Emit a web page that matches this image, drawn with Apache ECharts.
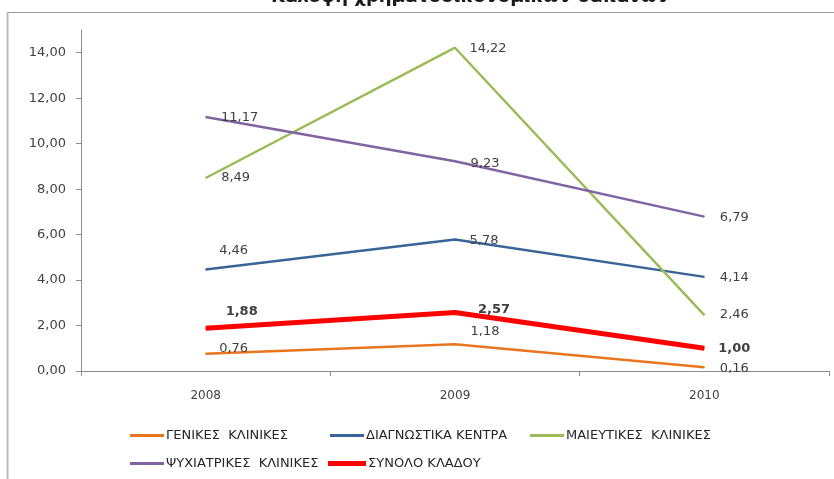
<!DOCTYPE html>
<html>
<head>
<meta charset="utf-8">
<script src="https://cdn.jsdelivr.net/npm/echarts@6/dist/echarts.min.js"></script>
<style>html,body{margin:0;padding:0;background:#fff;}#c{width:834px;height:479px;}</style>
</head>
<body>
<div id="c"></div>
<script>
var titleText = 'Κάλυψη χρηματοοικονομικών δαπανών';
var categories = ['2008', '2009', '2010'];
var seriesNames = ['ΓΕΝΙΚΕΣ  ΚΛΙΝΙΚΕΣ', 'ΔΙΑΓΝΩΣΤΙΚΑ ΚΕΝΤΡΑ', 'ΜΑΙΕΥΤΙΚΕΣ  ΚΛΙΝΙΚΕΣ', 'ΨΥΧΙΑΤΡΙΚΕΣ  ΚΛΙΝΙΚΕΣ', 'ΣΥΝΟΛΟ ΚΛΑΔΟΥ'];
var genikes = [0.76, 1.18, 0.16];
var diagnostika = [4.46, 5.78, 4.14];
var maieutikes = [8.49, 14.22, 2.46];
var psychiatrikes = [11.17, 9.23, 6.79];
var synolo = [1.88, 2.57, 1.00];
var yTicks = [0, 2, 4, 6, 8, 10, 12, 14];

var colors = ['#E8761E', '#3A6397', '#9BBB59', '#8064A2', '#FF0000'];
var widths = [2.5, 2.5, 2.5, 2.5, 5];
var labelOffsets = [
  [[28, -5], [30, -13], [30, 1]],
  [[28, -19], [29, 1], [30, 1]],
  [[30, 0], [33, 1], [30, 0]],
  [[34, 1], [30, 2], [30, 1]],
  [[36, -17], [39, -3], [30, 0]]
];
var allData = [genikes, diagnostika, maieutikes, psychiatrikes, synolo];

function fmt(v) { return v.toFixed(2).replace('.', ','); }

var series = allData.map(function (arr, i) {
  return {
    name: seriesNames[i],
    type: 'line',
    data: arr.map(function (v, j) {
      return { value: v, label: { offset: labelOffsets[i][j] } };
    }),
    symbol: 'circle',
    symbolSize: 1,
    showSymbol: true,
    color: colors[i],
    lineStyle: { width: widths[i], color: colors[i] },
    itemStyle: { color: colors[i] },
    label: {
      show: true,
      position: 'inside',
      align: 'center',
      verticalAlign: 'middle',
      color: '#404040',
      fontFamily: 'DejaVu Sans',
      fontSize: 13,
      fontWeight: i === 4 ? 'bold' : 'normal',
      formatter: function (p) { return fmt(p.value); }
    },
    emphasis: { disabled: true },
    z: i === 4 ? 5 : 3
  };
});

var legendLefts = [130, 330, 530, 130, 328];
var legendTops = [429, 429, 429, 457, 457];
var legends = seriesNames.map(function (n, i) {
  return {
    data: [{ name: n, icon: 'rect' }],
    left: legendLefts[i],
    top: legendTops[i],
    itemWidth: i === 4 ? 38 : 34,
    itemHeight: i === 4 ? 5 : 3,
    itemGap: 0,
    padding: 0,
    selectedMode: false,
    textStyle: { color: '#262626', fontFamily: 'DejaVu Sans', fontSize: 13, padding: [0, 0, 0, -3] }
  };
});

var chart = echarts.init(document.getElementById('c'), null, { renderer: 'canvas' });
chart.setOption({
  animation: false,
  backgroundColor: '#ffffff',
  title: {
    text: titleText,
    left: 465,
    textAlign: 'center',
    top: -17,
    textStyle: { fontFamily: 'DejaVu Sans', fontSize: 18, fontWeight: 'bold', color: '#1a1a1a' }
  },
  graphic: [
    { type: 'line', shape: { x1: 7, y1: 12.5, x2: 834, y2: 12.5 }, style: { stroke: '#9a9a9a', lineWidth: 1.2 }, silent: true },
    { type: 'line', shape: { x1: 7.5, y1: 12, x2: 7.5, y2: 479 }, style: { stroke: '#bdbdbd', lineWidth: 2 }, silent: true }
  ],
  legend: legends,
  grid: { left: 81, right: 5, top: 30, bottom: 108, containLabel: false },
  xAxis: {
    type: 'category',
    data: categories,
    boundaryGap: true,
    axisLine: { lineStyle: { color: '#8c8c8c', width: 1 } },
    axisTick: { show: true, length: 5, lineStyle: { color: '#8c8c8c' } },
    axisLabel: { color: '#404040', fontFamily: 'DejaVu Sans', fontSize: 12, margin: 19 },
    splitLine: { show: false }
  },
  yAxis: {
    type: 'value',
    min: 0,
    max: 15,
    interval: 1,
    axisLine: { show: true, lineStyle: { color: '#8c8c8c', width: 1 } },
    axisTick: { show: true, length: 5, lineStyle: { color: '#8c8c8c' }, customValues: yTicks },
    axisLabel: {
      color: '#404040', fontFamily: 'DejaVu Sans', fontSize: 13, margin: 15,
      customValues: yTicks,
      formatter: function (v) { return fmt(v); }
    },
    splitLine: { show: false }
  },
  series: series
});
</script>
</body>
</html>
